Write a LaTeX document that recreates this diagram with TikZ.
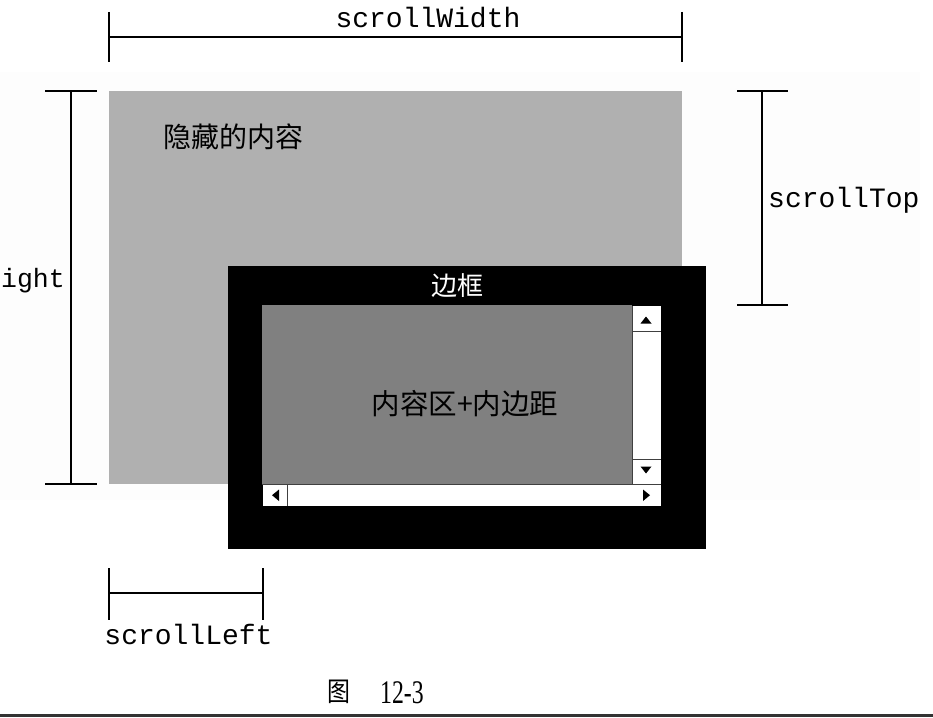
\documentclass[tikz,border=0pt]{standalone}
\usepackage{fontspec}
\setmainfont{Liberation Serif}
\setmonofont{Liberation Mono}
\newfontfamily\cjk{Noto Sans CJK SC}
\definecolor{hiddengray}{HTML}{B0B0B0}
\definecolor{contentgray}{HTML}{808080}
\definecolor{faintgray}{HTML}{FDFDFD}
\definecolor{rulegray}{HTML}{333333}
\tikzset{
  dimline/.style={draw=black, line width=1.4pt},
  monolabel/.style={inner sep=0pt, font=\ttfamily\fontsize{28}{30}\selectfont},
  cjklabel/.style={inner sep=0pt, font=\cjk\fontsize{28}{30}\selectfont},
  sbline/.style={draw=black!75, line width=0.9pt},
  sbarrow/.style={fill=black}
}
\begin{document}
\begin{tikzpicture}[x=1pt,y=-1pt]
\useasboundingbox (0,0) rectangle (933,717);
\fill[white] (0,0) rectangle (933,717);
\fill[faintgray] (0,72) rectangle (920,500);

% hidden content area
\fill[hiddengray] (109,91) rectangle (682,484);
\node[cjklabel, anchor=west] (hiddenlbl) at (163,137) {隐藏的内容};

% scrollWidth
\coordinate (swL) at (109,37);
\coordinate (swR) at (682,37);
\draw[dimline] (109,12) -- (109,62);
\draw[dimline] (682,12) -- (682,62);
\draw[dimline] (swL) -- (swR);
\node[monolabel] (swlbl) at (428,18) {scrollWidth};

% scrollHeight (left, cut off)
\coordinate (shT) at (71,91);
\coordinate (shB) at (71,484);
\draw[dimline] (45,91) -- (97,91);
\draw[dimline] (45,484) -- (97,484);
\draw[dimline] (shT) -- (shB);
\node[monolabel, anchor=east, font=\ttfamily\fontsize{26.5}{28}\selectfont] (shlbl) at (65,281) {ight};

% scrollTop
\coordinate (stT) at (762,91);
\coordinate (stB) at (762,305);
\draw[dimline] (737,91) -- (788,91);
\draw[dimline] (737,305) -- (788,305);
\draw[dimline] (stT) -- (stB);
\node[monolabel, anchor=west] (stlbl) at (768,200) {scrollTop};

% border box
\fill[black] (228,266) rectangle (706,549);
\node[cjklabel, text=white, font=\cjk\fontsize{26}{28}\selectfont] (borderlbl) at (457,286) {边框};

% content + padding
\fill[contentgray] (262,305) rectangle (632,484);
\node[cjklabel, font=\cjk\fontsize{28.5}{30}\selectfont] (contentlbl) at (465,404) {内容区+内边距};

% vertical scrollbar
\fill[white] (632,306) rectangle (661,484);
\draw[sbline] (632,331) -- (661,331);
\draw[sbline] (632,459) -- (661,459);
\draw[sbline] (632,306) -- (632,506);
\fill[sbarrow] (640.5,323.5) -- (651.5,323.5) -- (646,316.5) -- cycle;
\fill[sbarrow] (640.5,466.5) -- (651.5,466.5) -- (646,473.5) -- cycle;

% horizontal scrollbar
\fill[white] (263,485) rectangle (661,506);
\draw[sbline] (262,484.5) -- (661,484.5);
\draw[sbline] (287,485) -- (287,506);
\fill[sbarrow] (279,489.5) -- (279,501) -- (272,495.2) -- cycle;
\fill[sbarrow] (643,489.5) -- (643,501) -- (650,495.2) -- cycle;

% scrollLeft
\coordinate (slL) at (109,593);
\coordinate (slR) at (263,593);
\draw[dimline] (109,568) -- (109,620);
\draw[dimline] (263,568) -- (263,620);
\draw[dimline] (slL) -- (slR);
\node[monolabel] (sllbl) at (188.5,634) {scrollLeft};

% caption
\node[inner sep=0pt, font=\cjk\fontsize{27}{29}\selectfont] (capfig) at (339,692) {\scalebox{0.85}[1]{图}};
\node[inner sep=0pt, anchor=west, font=\fontsize{33}{35}\selectfont] (capnum) at (380,693) {\scalebox{0.72}[1]{12-3}};

% bottom rule
\fill[rulegray] (0,714) rectangle (933,717);
\end{tikzpicture}
\end{document}
